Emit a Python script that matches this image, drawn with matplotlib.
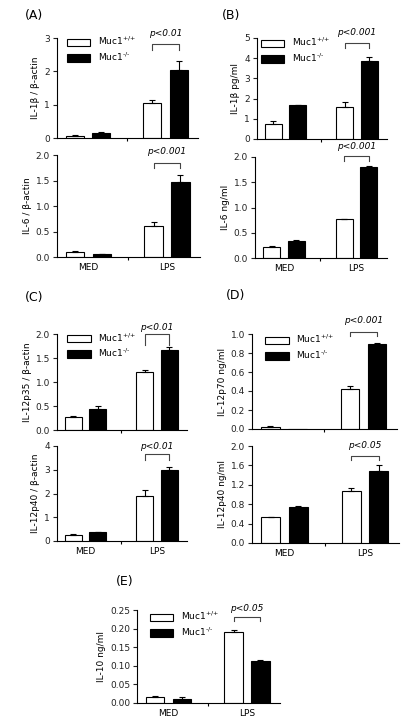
import matplotlib
matplotlib.use("Agg")
import matplotlib.pyplot as plt
from matplotlib.patches import Patch

plt.rcParams['font.family'] = ['DejaVu Sans']
plt.rcParams['font.size'] = 6.5
plt.rcParams['mathtext.default'] = 'regular'

groups = ["MED", "LPS"]
series = [r"Muc1$^{\text{+/+}}$", r"Muc1$^{\text{-/-}}$"]

# values per panel: [MED, LPS] for wild type and knockout, with SEM
il1b_actin_wt = [0.07, 1.05]
il1b_actin_ko = [0.15, 2.05]
il1b_actin_wt_err = [0.02, 0.09]
il1b_actin_ko_err = [0.04, 0.26]

il6_actin_wt = [0.10, 0.60]
il6_actin_ko = [0.05, 1.47]
il6_actin_wt_err = [0.02, 0.08]
il6_actin_ko_err = [0.01, 0.13]

il1b_pg_wt = [0.72, 1.57]
il1b_pg_ko = [1.68, 3.85]
il1b_pg_wt_err = [0.17, 0.25]
il1b_pg_ko_err = [0.02, 0.22]

il6_ng_wt = [0.22, 0.77]
il6_ng_ko = [0.34, 1.81]
il6_ng_wt_err = [0.01, 0.01]
il6_ng_ko_err = [0.02, 0.02]

il12p35_wt = [0.28, 1.21]
il12p35_ko = [0.43, 1.67]
il12p35_wt_err = [0.02, 0.05]
il12p35_ko_err = [0.07, 0.06]

il12p40_actin_wt = [0.25, 1.90]
il12p40_actin_ko = [0.38, 2.98]
il12p40_actin_wt_err = [0.03, 0.25]
il12p40_actin_ko_err = [0.02, 0.13]

il12p70_wt = [0.02, 0.42]
il12p70_ko = [0.0, 0.90]
il12p70_wt_err = [0.01, 0.03]
il12p70_ko_err = [0.0, 0.01]

il12p40_ng_wt = [0.53, 1.07]
il12p40_ng_ko = [0.75, 1.49]
il12p40_ng_wt_err = [0.01, 0.07]
il12p40_ng_ko_err = [0.01, 0.12]

il10_wt = [0.015, 0.19]
il10_ko = [0.010, 0.114]
il10_wt_err = [0.004, 0.006]
il10_ko_err = [0.007, 0.001]

W, H = 409, 727
fig = plt.figure(figsize=(W / 100, H / 100), dpi=100)


def add_ax(x0, x1, ytop, ybot):
    return fig.add_axes([x0 / W, 1 - ybot / H, (x1 - x0) / W, (ybot - ytop) / H])


def draw(ax, wt, ko, wt_err, ko_err, ylim, yticks, fmt, ylabel, pval, pos,
         legend=None, xlabels=False):
    x = [0, 1]
    off, w = 0.17, 0.235
    xw = [v - off for v in x]
    xk = [v + off for v in x]
    ax.bar(xw, wt, w, color="white", edgecolor="black", linewidth=0.8, zorder=2)
    ax.bar(xk, ko, w, color="black", edgecolor="black", linewidth=0.8, zorder=2)
    for xs, ys, es in [(xw, wt, wt_err), (xk, ko, ko_err)]:
        for xi, yi, ei in zip(xs, ys, es):
            if ei > 0:
                ax.errorbar(xi, yi, yerr=[[0], [ei]], fmt="none", ecolor="black",
                            elinewidth=0.8, capsize=2, capthick=0.8, zorder=3)
    ax.set_xlim(-0.4, 1.42)
    ax.set_ylim(*ylim)
    ax.set_yticks(yticks)
    ax.set_yticklabels([fmt.format(t) for t in yticks])
    ax.set_xticks([0.5])
    ax.set_xticklabels([""])
    ax.tick_params(axis="x", length=2, width=0.8)
    ax.tick_params(axis="y", length=3, width=0.8, pad=2, labelsize=6.5, colors="#222222")
    if xlabels:
        ax.set_xticks(x, minor=True)
        ax.set_xticklabels(groups, minor=True)
        ax.tick_params(axis="x", which="minor", length=0, pad=4, labelsize=6.5)
    for s in ["top", "right"]:
        ax.spines[s].set_visible(False)
    for s in ["left", "bottom"]:
        ax.spines[s].set_linewidth(0.8)
    ax.set_ylabel(ylabel, fontsize=6.5, labelpad=3)
    top = ylim[1]
    tb, tt, ty = pos
    ax.plot([xw[1], xw[1], xk[1], xk[1]], [tb * top, tt * top, tt * top, tb * top],
            color="#444444", lw=0.8, clip_on=False)
    ax.text((xw[1] + xk[1]) / 2, ty * top, pval, style="italic", ha="center",
            va="center", fontsize=6.5)
    if legend is not None:
        handles = [Patch(facecolor="white", edgecolor="black", linewidth=0.8),
                   Patch(facecolor="black", edgecolor="black", linewidth=0.8)]
        ax.legend(handles, series, loc="upper left", bbox_to_anchor=legend,
                  frameon=False, fontsize=6.5, handlelength=2.6, handleheight=0.9,
                  handletextpad=0.8, labelspacing=0.35, borderaxespad=0, borderpad=0)


# (A)
ax = add_ax(57, 198, 38, 138)
draw(ax, il1b_actin_wt, il1b_actin_ko, il1b_actin_wt_err, il1b_actin_ko_err,
     (0, 3), [0, 1, 2, 3], "{:.0f}", "IL-1β / β-actin", "p<0.01",
     (0.88, 0.94, 1.04), legend=(0.07, 1.03))
ax = add_ax(57, 200, 155, 257)
draw(ax, il6_actin_wt, il6_actin_ko, il6_actin_wt_err, il6_actin_ko_err,
     (0, 2.0), [0, 0.5, 1.0, 1.5, 2.0], "{:.1f}", "IL-6 / β-actin", "p<0.001",
     (0.87, 0.92, 1.03), xlabels=True)

# (B)
ax = add_ax(257, 387, 38, 139)
draw(ax, il1b_pg_wt, il1b_pg_ko, il1b_pg_wt_err, il1b_pg_ko_err,
     (0, 5), [0, 1, 2, 3, 4, 5], "{:.0f}", "IL-1β pg/ml", "p<0.001",
     (0.90, 0.95, 1.05), legend=(0.03, 1.02))
ax = add_ax(255, 387, 157, 258)
draw(ax, il6_ng_wt, il6_ng_ko, il6_ng_wt_err, il6_ng_ko_err,
     (0, 2.0), [0, 0.5, 1.0, 1.5, 2.0], "{:.1f}", "IL-6 ng/ml", "p<0.001",
     (0.96, 1.01, 1.10), xlabels=True)

# (C)
ax = add_ax(57, 187, 334, 430)
draw(ax, il12p35_wt, il12p35_ko, il12p35_wt_err, il12p35_ko_err,
     (0, 2.0), [0, 0.5, 1.0, 1.5, 2.0], "{:.1f}", "IL-12p35 / β-actin", "p<0.01",
     (0.885, 1.0, 1.07), legend=(0.08, 1.03))
ax = add_ax(57, 187, 446, 541)
draw(ax, il12p40_actin_wt, il12p40_actin_ko, il12p40_actin_wt_err, il12p40_actin_ko_err,
     (0, 4), [0, 1, 2, 3, 4], "{:.0f}", "IL-12p40 / β-actin", "p<0.01",
     (0.85, 0.92, 0.99), xlabels=True)

# (D)
ax = add_ax(252, 397, 334, 429)
draw(ax, il12p70_wt, il12p70_ko, il12p70_wt_err, il12p70_ko_err,
     (0, 1.0), [0, 0.2, 0.4, 0.6, 0.8, 1.0], "{:.1f}", "IL-12p70 ng/ml", "p<0.001",
     (0.98, 1.02, 1.14), legend=(0.09, 1.01))
ax = add_ax(252, 399, 446, 543)
draw(ax, il12p40_ng_wt, il12p40_ng_ko, il12p40_ng_wt_err, il12p40_ng_ko_err,
     (0, 2.0), [0, 0.4, 0.8, 1.2, 1.6, 2.0], "{:.1f}", "IL-12p40 ng/ml", "p<0.05",
     (0.86, 0.90, 1.0), xlabels=True)

# (E)
ax = add_ax(137, 280, 610, 703)
draw(ax, il10_wt, il10_ko, il10_wt_err, il10_ko_err,
     (0, 0.25), [0, 0.05, 0.10, 0.15, 0.20, 0.25], "{:.2f}", "IL-10 ng/ml", "p<0.05",
     (0.88, 0.92, 1.02), legend=(0.09, 1.0), xlabels=True)

for lab, x, y in [("(A)", 34, 15), ("(B)", 231, 15), ("(C)", 34, 297),
                  ("(D)", 236, 295), ("(E)", 125, 582)]:
    fig.text(x / W, 1 - y / H, lab, fontsize=9, ha="center", va="center")

fig.savefig("out.png", dpi=100)
